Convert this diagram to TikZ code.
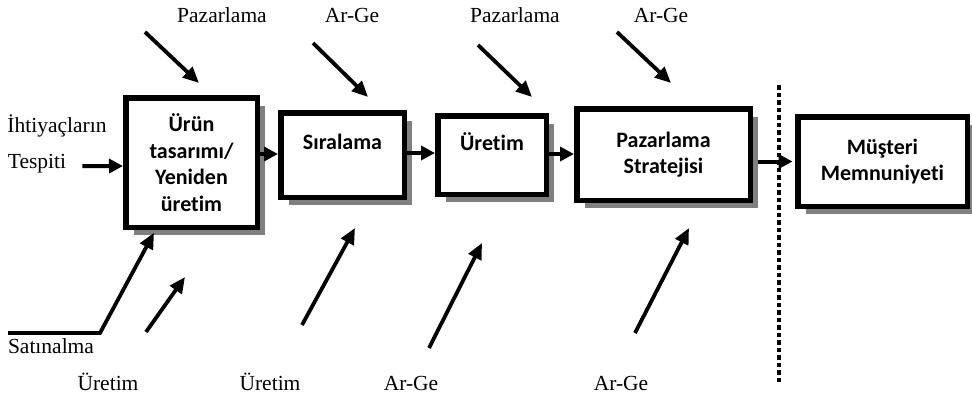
\documentclass[tikz,border=0pt]{standalone}
\usepackage{fontspec}
\setmainfont{Liberation Serif}
\newfontfamily\boxfont[Ligatures=NoCommon]{Carlito}
\usepackage{tikz}
\usetikzlibrary{arrows.meta,shadows}

\begin{document}
\begin{tikzpicture}[x=1pt,y=-1pt,
    box/.style={draw,line width=5.5pt,fill=white,align=center,
      font=\boxfont\bfseries\fontsize{22}{26.5}\selectfont,
      drop shadow={shadow xshift=8pt,shadow yshift=-8pt,fill=black!50,opacity=1}},
    lbl/.style={anchor=base,inner sep=0pt,font=\fontsize{21.5}{25}\selectfont},
    flow/.style={line width=4pt,-{Triangle[length=14pt,width=14pt]}},
    feed/.style={line width=3.8pt,-{Triangle[length=16pt,width=14pt]}}]
    \useasboundingbox (0,0) rectangle (972,399);

    \node[box,minimum width=131.5pt,minimum height=129.5pt](urun) at (191.5,162.5){Ürün\\tasarımı/\\Yeniden\\üretim};
    \node[box,minimum width=123.5pt,minimum height=84.5pt](sira) at (342.5,155){Sıralama\\\phantom{S}};
    \node[box,minimum width=108.5pt,minimum height=78.5pt](uret) at (492,155){Üretim\\\phantom{S}};
    \node[box,minimum width=173.5pt,minimum height=91.5pt](strat) at (663.5,154.5){Pazarlama\\Stratejisi};
    \node[box,minimum width=169.5pt,minimum height=89.5pt](must) at (882.5,161.5){Müşteri\\Memnuniyeti};

    \node[lbl](pazar1) at (222,22){Pazarlama};
    \node[lbl](arge1) at (352,22){Ar-Ge};
    \node[lbl](pazar2) at (515,22){Pazarlama};
    \node[lbl](arge2) at (661,22){Ar-Ge};
    \node[lbl](ihtiyac) at (57,132){İhtiyaçların};
    \node[lbl](tespiti) at (37,168){Tespiti};
    \node[lbl](satinalma) at (51,353){Satınalma};
    \node[lbl](uretim1) at (108,390){Üretim};
    \node[lbl](uretim2) at (270,390){Üretim};
    \node[lbl](arge3) at (411,390){Ar-Ge};
    \node[lbl](arge4) at (621,390){Ar-Ge};

    \draw[flow] ([xshift=16pt,yshift=-3pt]tespiti.east) -- (urun.west |- 0,166);
    \draw[flow] (urun.east |- 0,154) -- (sira.west |- 0,154);
    \draw[flow] (sira.east |- 0,153) -- (uret.west |- 0,153);
    \draw[flow] (uret.east |- 0,154) -- (strat.west |- 0,154);
    \draw[flow] ([xshift=4.5pt]strat.east |- must.west) -- ([xshift=-2.5pt]must.west);

    \coordinate (p1a) at (145,32);  \coordinate (p1b) at (199,83);
    \coordinate (g1a) at (313,43);  \coordinate (g1b) at (368,97);
    \coordinate (p2a) at (478,45);  \coordinate (p2b) at (532,97);
    \coordinate (g2a) at (617,32);  \coordinate (g2b) at (671,83);
    \draw[feed] (p1a) -- (p1b);
    \draw[feed] (g1a) -- (g1b);
    \draw[feed] (p2a) -- (p2b);
    \draw[feed] (g2a) -- (g2b);

    \coordinate (satin) at (8,333);
    \coordinate (satknee) at (100,333);
    \draw[feed] (satin) -- (satknee) -- ([xshift=-37.5pt,yshift=-2.75pt]urun.south);
    \coordinate (u1a) at (146,332); \coordinate (u1b) at (185,277);
    \coordinate (u2a) at (302,325); \coordinate (u2b) at (355,228);
    \coordinate (g3a) at (429,348); \coordinate (g3b) at (482,243);
    \coordinate (g4a) at (635,333); \coordinate (g4b) at (689,228);
    \draw[feed] (u1a) -- (u1b);
    \draw[feed] (u2a) -- (u2b);
    \draw[feed] (g3a) -- (g3b);
    \draw[feed] (g4a) -- (g4b);

    \coordinate (dtop) at (779,85);
    \coordinate (dbot) at (779,383);
    \draw[line width=4.5pt,dash pattern=on 4.5pt off 3pt] (dtop) -- (dbot);
  \end{tikzpicture}
\end{document}
